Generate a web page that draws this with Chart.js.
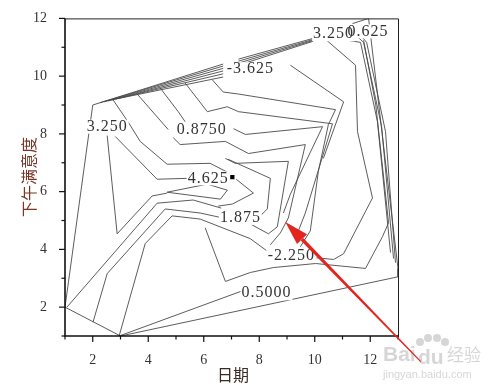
<!DOCTYPE html>
<html>
<head>
<meta charset="utf-8">
<script src="https://cdn.jsdelivr.net/npm/chart.js@4"></script>
<style>
  body { margin: 0; background: #fff; }
  canvas { display: block; }
</style>
</head>
<body>
<canvas id="contourChart" width="500" height="386"></canvas>
<script>
// tick values
const xTicks = [2, 4, 6, 8, 10, 12];
const yTicks = [2, 4, 6, 8, 10, 12];

// contour polylines, [日期, 下午满意度]
const hullEdge = [[2.0, 9.0], [1.0, 2.0], [3.0, 1.0], [13.0, 3.05]];
const topEdge = [[2.0, 9.0], [6.70, 10.42]];
const fanLeft = [
  [[2.26, 9.08], [6.70, 10.35]],
  [[2.41, 9.11], [6.70, 10.27]],
  [[2.55, 9.14], [6.70, 10.18]],
  [[2.70, 9.18], [6.70, 10.08]],
  [[2.84, 9.21], [6.70, 9.97]]
];
const fanTop = [
  [[7.25, 10.59], [9.95, 11.31]],
  [[7.25, 10.52], [9.95, 11.27]],
  [[7.25, 10.45], [9.95, 11.24]],
  [[7.25, 10.38], [9.95, 11.21]]
];
const rightEdge = [[11.36, 11.82], [11.94, 12.0], [13.0, 3.34], [13.0, 3.05]];
const rightFan = [
  [[10.31, 11.38], [11.65, 11.17], [12.26, 8.42], [12.73, 3.89]],
  [[11.50, 11.40], [11.76, 11.17], [12.41, 8.25], [12.84, 3.68]],
  [[11.62, 11.45], [11.87, 11.17], [12.55, 8.08], [12.91, 3.54]]
];
const spike = [[9.12, 10.38], [11.04, 9.11], [10.31, 7.15]];
const ringMinus225 = [[10.06, 3.71], [10.68, 3.65], [11.04, 3.85], [12.08, 5.78], [11.54, 8.08], [11.47, 10.38], [10.31, 11.34]];
const ringOuter = [[6.05, 4.75], [6.78, 2.89], [7.68, 3.20], [8.51, 3.37], [10.03, 3.51], [11.83, 3.34], [12.44, 4.44], [12.66, 4.92], [12.20, 9.0], [11.76, 11.24]];
const line05 = [[2.95, 1.0], [7.35, 2.55]];
const line1875 = [[1.07, 2.0], [4.32, 5.60], [5.62, 5.71], [6.63, 5.43]];
const ring1875 = [[8.0, 5.12], [8.29, 5.40], [8.40, 6.46], [6.88, 7.12]];
const ringB = [[2.01, 1.48], [2.52, 3.16], [4.61, 5.40], [5.87, 5.26], [7.68, 4.88], [8.33, 4.54], [8.65, 4.78], [9.05, 7.05], [7.14, 6.98], [6.78, 7.15]];
const ringA = [[4.90, 7.87], [5.15, 7.63], [6.78, 7.74], [7.61, 7.32], [9.66, 7.63], [9.05, 5.09], [8.76, 4.57], [8.40, 4.16]];
const ring0875 = [[7.07, 8.18], [7.50, 7.98], [10.28, 8.25], [9.12, 5.91], [8.87, 5.26]];
const armD = [[5.33, 9.76], [6.13, 8.77], [6.85, 8.94], [7.25, 8.77], [10.64, 8.35], [9.66, 5.26], [9.41, 4.64]];
const armE = [[6.31, 9.87], [6.70, 9.45], [7.25, 9.38], [10.75, 8.84], [10.49, 8.32], [10.13, 6.70], [9.84, 4.64], [9.48, 4.09]];
const armC = [[4.43, 9.59], [5.08, 8.77], [5.33, 8.42]];
const armB = [[3.60, 9.38], [4.72, 8.15]];
const armA = [[2.73, 9.18], [3.27, 8.42], [3.71, 7.74], [4.68, 6.95], [6.23, 6.98], [6.92, 6.64]];
const arm4625 = [[2.81, 7.91], [4.32, 6.43], [5.40, 6.46]];
const vLine = [[2.52, 7.94], [2.88, 4.54], [4.14, 5.85], [4.68, 5.95]];
const innerLoop = [[4.68, 5.98], [6.13, 6.26], [6.85, 6.05], [6.60, 5.74], [4.68, 5.98]];
const ringC = [[7.17, 6.43], [7.79, 5.95], [7.03, 5.57], [6.52, 5.50]];
const line225 = [[2.95, 1.0], [3.89, 4.20], [4.86, 5.16], [5.87, 5.05], [7.68, 4.37], [8.26, 3.96]];
const peakPoint = [[7.03, 6.50]];

// contour labels
const labelText = ['3.250', '0.8750', '4.625', '1.875', '-2.250', '0.5000', '-3.625', '3.250', '0.625'];
const labelX = [2.52, 5.93, 6.16, 7.32, 9.16, 8.26, 7.68, 10.68, 11.92];
const labelY = [8.25, 8.15, 6.46, 5.09, 3.78, 2.48, 10.24, 11.45, 11.55];

// red arrow annotation (data units)
const arrowTip = [8.94, 4.95];
const arrowTail = [13.82, 0.11];

const allLines = [
  hullEdge, topEdge, ...fanLeft, ...fanTop, rightEdge, ...rightFan, spike,
  ringMinus225, ringOuter, line05, line1875, ring1875, ringB, ringA, ring0875,
  armD, armE, armC, armB, armA, arm4625, vLine, innerLoop, ringC, line225
];

const lineColor = '#4a4a4a';

const datasets = allLines.map(pts => ({
  data: pts.map(p => ({ x: p[0], y: p[1] })),
  showLine: true,
  borderColor: lineColor,
  borderWidth: 0.9,
  pointRadius: 0,
  fill: false,
  tension: 0
}));
datasets.push({
  data: peakPoint.map(p => ({ x: p[0], y: p[1] })),
  showLine: false,
  pointStyle: 'rect',
  pointRadius: 3,
  backgroundColor: '#000',
  borderColor: '#000',
  borderWidth: 0
});

const decorPlugin = {
  id: 'decor',
  afterDatasetsDraw(chart) {
    const { ctx, scales: { x, y } } = chart;
    ctx.save();
    ctx.font = '16px "Liberation Serif"';
    if ('letterSpacing' in ctx) ctx.letterSpacing = '1px';
    ctx.textAlign = 'center';
    ctx.textBaseline = 'middle';
    // clear a gap behind each label
    labelText.forEach((t, i) => {
      const px = x.getPixelForValue(labelX[i]);
      const py = y.getPixelForValue(labelY[i]);
      const w = ctx.measureText(t).width;
      ctx.fillStyle = '#fff';
      ctx.fillRect(px - w / 2 - 1, py - 7, w + 2, 14);
    });
    ctx.fillStyle = '#333';
    labelText.forEach((t, i) => {
      ctx.fillText(t, x.getPixelForValue(labelX[i]), y.getPixelForValue(labelY[i]));
    });
    ctx.restore();
  },
  afterDraw(chart) {
    const { ctx, chartArea: a, scales: { x, y } } = chart;
    ctx.save();
    // frame
    ctx.strokeStyle = '#222';
    ctx.lineWidth = 1;
    ctx.beginPath();
    ctx.moveTo(a.left, a.top + 0.5);
    ctx.lineTo(a.right + 0.5, a.top + 0.5);
    ctx.lineTo(a.right + 0.5, a.bottom);
    ctx.stroke();
    ctx.lineWidth = 1.6;
    ctx.strokeStyle = '#111';
    ctx.beginPath();
    ctx.moveTo(a.left, a.top);
    ctx.lineTo(a.left, a.bottom);
    ctx.lineTo(a.right + 1, a.bottom);
    ctx.stroke();
    // major / minor ticks
    ctx.lineWidth = 1.2;
    for (let v = 1; v <= 13; v++) {
      const px = x.getPixelForValue(v);
      const len = v % 2 === 0 ? 6 : 3.5;
      ctx.beginPath();
      ctx.moveTo(px, a.bottom);
      ctx.lineTo(px, a.bottom + len);
      ctx.stroke();
    }
    for (let v = 1; v <= 12; v++) {
      const py = y.getPixelForValue(v);
      const len = v % 2 === 0 ? 6 : 3.5;
      ctx.beginPath();
      ctx.moveTo(a.left, py);
      ctx.lineTo(a.left - len, py);
      ctx.stroke();
    }
    // axis titles
    ctx.font = '16px "Noto Sans CJK SC"';
    ctx.textAlign = 'center';
    ctx.textBaseline = 'middle';
    ctx.fillStyle = '#3a2a24';
    ctx.fillText('日期', 233, 375);
    ctx.save();
    ctx.translate(29, 177);
    ctx.rotate(-Math.PI / 2);
    ctx.fillStyle = '#7a3524';
    ctx.fillText('下午满意度', 0, 0);
    ctx.restore();

    // watermark
    ctx.fillStyle = 'rgba(200,200,200,0.75)';
    ctx.textAlign = 'left';
    ctx.font = 'bold 21px "Liberation Sans"';
    ctx.fillText('Bai', 383, 355);
    ctx.fillText('du', 418, 358);
    ctx.beginPath();
    [[420, 342, 4], [428, 338, 4], [437, 338, 4], [445, 342, 4]].forEach(c => {
      ctx.moveTo(c[0] + c[2], c[1]);
      ctx.arc(c[0], c[1], c[2], 0, Math.PI * 2);
    });
    ctx.fill();
    ctx.font = '17px "Noto Sans CJK SC"';
    ctx.fillText('经验', 447, 355);
    ctx.font = '11px "Liberation Sans"';
    ctx.fillText('jingyan.baidu.com', 383, 375);

    // red arrow
    const tx = x.getPixelForValue(arrowTip[0]);
    const ty = y.getPixelForValue(arrowTip[1]);
    const sx = x.getPixelForValue(arrowTail[0]);
    const sy = y.getPixelForValue(arrowTail[1]);
    const ang = Math.atan2(ty - sy, tx - sx);
    const headLen = 24, headW = 7;
    const bx = tx - headLen * Math.cos(ang);
    const by = ty - headLen * Math.sin(ang);
    const nx = -Math.sin(ang), ny = Math.cos(ang);
    ctx.fillStyle = '#e3241f';
    ctx.beginPath();
    ctx.moveTo(sx + nx * 0.6, sy + ny * 0.6);
    ctx.lineTo(bx + nx * 1.8, by + ny * 1.8);
    ctx.lineTo(bx - nx * 1.8, by - ny * 1.8);
    ctx.lineTo(sx - nx * 0.6, sy - ny * 0.6);
    ctx.closePath();
    ctx.fill();
    ctx.beginPath();
    ctx.moveTo(tx, ty);
    ctx.lineTo(bx + nx * headW, by + ny * headW);
    ctx.lineTo(bx - nx * headW, by - ny * headW);
    ctx.closePath();
    ctx.fill();
    ctx.restore();
  }
};

new Chart(document.getElementById('contourChart'), {
  type: 'scatter',
  data: { datasets: datasets },
  options: {
    responsive: false,
    animation: false,
    devicePixelRatio: 1,
    layout: { padding: { left: 0, top: 16, right: 102, bottom: 0 } },
    plugins: {
      legend: { display: false },
      tooltip: { enabled: false }
    },
    scales: {
      x: {
        type: 'linear',
        min: 1,
        max: 13,
        grid: { display: false },
        border: { display: false },
        ticks: {
          stepSize: 1,
          autoSkip: false,
          maxRotation: 0,
          padding: 8,
          color: '#333',
          font: { family: 'Liberation Serif', size: 14 },
          callback: v => (xTicks.includes(v) ? v : '')
        },
        afterFit: s => { s.height = 50; }
      },
      y: {
        type: 'linear',
        min: 1,
        max: 12,
        grid: { display: false },
        border: { display: false },
        ticks: {
          stepSize: 1,
          autoSkip: false,
          padding: 10,
          color: '#333',
          font: { family: 'Liberation Serif', size: 14 },
          callback: v => (yTicks.includes(v) ? v : '')
        },
        afterFit: s => { s.width = 65; }
      }
    }
  },
  plugins: [decorPlugin]
});
</script>
</body>
</html>
